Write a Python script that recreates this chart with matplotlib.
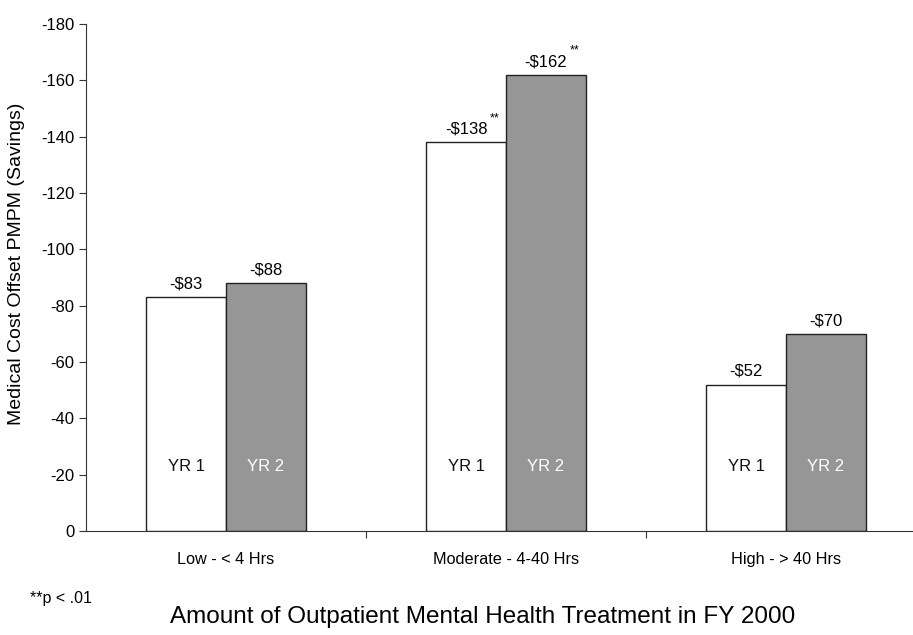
import numpy as np
import matplotlib.pyplot as plt

plt.rcParams['font.family'] = ['Liberation Sans', 'DejaVu Sans']

# savings per member per month, shown as negative offsets
groups = ['Low - < 4 Hrs', 'Moderate - 4-40 Hrs', 'High - > 40 Hrs']
yr1 = [-83, -138, -52]
yr2 = [-88, -162, -70]
yr1_sig = ['', '**', '']
yr2_sig = ['', '**', '']
yticks = [0, -20, -40, -60, -80, -100, -120, -140, -160, -180]

fig = plt.figure(figsize=(9.13, 6.35), dpi=100)
ax = fig.add_axes([86 / 913, 104 / 635, 840 / 913, 507 / 635])

x = np.arange(len(groups))
w = 80 / 280
b1 = ax.bar(x - w / 2, yr1, w, color='white', edgecolor='#222222', linewidth=1)
b2 = ax.bar(x + w / 2, yr2, w, color='#969696', edgecolor='#222222', linewidth=1)

ax.set_xlim(-0.5, 2.5)
ax.set_ylim(0, -180)
ax.set_yticks(yticks)
ax.set_yticklabels([str(t) for t in yticks], fontsize=12)
ax.set_xticks([0.5, 1.5])
ax.set_xticklabels([])
ax.tick_params(axis='both', direction='out', length=5, color='#333333')
for s in ['top', 'right']:
    ax.spines[s].set_visible(False)
for s in ['left', 'bottom']:
    ax.spines[s].set_color('#333333')

for i, g in enumerate(groups):
    ax.text(i, 7.5, g, ha='center', va='top', fontsize=11.7)

# value labels above the bars
for bars, vals, sig in [(b1, yr1, yr1_sig), (b2, yr2, yr2_sig)]:
    for r, v, s in zip(bars, vals, sig):
        cx = r.get_x() + r.get_width() / 2
        ax.text(cx, v - 2, '-$%d' % abs(v), ha='center', va='bottom', fontsize=12)
        if s:
            ax.text(cx + 0.085, v - 6.5, s, ha='left', va='bottom', fontsize=9)

for i in x:
    ax.text(i - w / 2, -23, 'YR 1', ha='center', va='center', fontsize=12, color='#111111')
    ax.text(i + w / 2, -23, 'YR 2', ha='center', va='center', fontsize=12, color='white')

fig.text(17 / 913, 1 - 264 / 635, 'Medical Cost Offset PMPM (Savings)', rotation=90,
         ha='center', va='center', fontsize=14)

fig.text(30 / 913, 1 - 598 / 635, '**p < .01', ha='left', va='center', fontsize=11.5)
fig.text(483 / 913, 1 - 617 / 635, 'Amount of Outpatient Mental Health Treatment in FY 2000',
         ha='center', va='center', fontsize=17.5)

fig.savefig('out.png', dpi=100)
